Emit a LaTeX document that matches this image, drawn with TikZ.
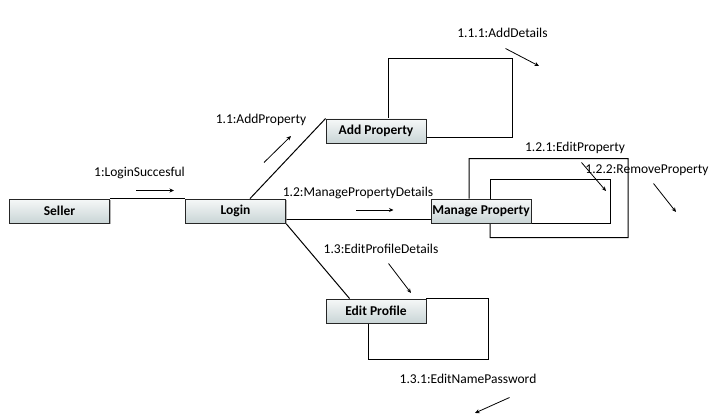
\documentclass[tikz,border=0pt]{standalone}
\usepackage{fontspec}
\setmainfont{Carlito}
\usetikzlibrary{arrows.meta,shadows}
\definecolor{boxtop}{HTML}{F6F8F8}
\definecolor{boxbot}{HTML}{C9D5D6}
\tikzset{
  obj/.style={draw=black!85, line width=0.9pt, top color=boxtop, bottom color=boxbot,
    minimum width=100pt, minimum height=24pt, inner sep=0pt, font=\bfseries\fontsize{13.5}{15}\selectfont,
    drop shadow={shadow xshift=1.2pt, shadow yshift=-1.2pt, fill=black!35, opacity=0.6}},
  lbl/.style={inner sep=0pt, font=\fontsize{13.5}{15}\selectfont},
  link/.style={line width=1pt, black},
  msg/.style={line width=0.8pt, -{Stealth[length=4.5pt,width=4pt]}}
}
\begin{document}
\begin{tikzpicture}[x=1pt,y=-1pt]
\useasboundingbox (0,0) rectangle (728,417);
% objects
\node[obj] (seller) at (59.5,211) {Seller};
\node[obj] (login) at (235.5,211) {Login};
\node[obj] (addp) at (376,131) {Add Property};
\node[obj] (manp) at (481,211) {Manage Property};
\node[obj] (editp) at (376,311) {Edit Profile};
% links
\draw[link] (seller.north east) -- (login.north west);
\draw[link] ([xshift=65pt]login.north west) -- (addp.north west);
\draw[link] ([yshift=-8pt]login.east) -- ([yshift=-8pt]manp.west);
\draw[link] (login.south east) -- ([xshift=24pt]editp.north west);
% self loops
\coordinate (a1) at (512,58.5);
\draw[link] ([yshift=-7pt]addp.east) -| (a1) -| ([xshift=63pt]addp.north west);
\coordinate (m1) at (628,158.5);
\coordinate (m2) at (490,237.5);
\draw[link] ([xshift=38.5pt]manp.north west) |- (m1) |- (m2) -- ([xshift=59.5pt]manp.south west);
\coordinate (m3) at (610,179.5);
\draw[link] ([xshift=59.5pt]manp.north west) |- (m3) |- ([yshift=0.3pt]manp.south east);
\coordinate (e1) at (488.5,359.5);
\draw[link] (editp.north east) -| (e1) -| ([xshift=43pt]editp.south west);
% redraw boxes on top
\node[obj] at (seller) {Seller};
\node[obj] at (login) {Login};
\node[obj] at (addp) {Add Property};
\node[obj] at (manp) {Manage Property};
\node[obj] at (editp) {Edit Profile};
% messages
\node[lbl] (l1) at (139.5,173) {1:LoginSuccesful};
\draw[msg] (136,190.5) -- (174,190.5);
\node[lbl] (l11) at (261,120) {1.1:AddProperty};
\draw[msg] (264,162.5) -- (291,136);
\node[lbl] (l12) at (358,192.5) {1.2:ManagePropertyDetails};
\draw[msg] (356,210) -- (393.5,210);
\node[lbl] (l13) at (381,249) {1.3:EditProfileDetails};
\draw[msg] (388.5,263.5) -- (411,293);
\node[lbl] (l111) at (502.5,32.5) {1.1.1:AddDetails};
\draw[msg] (505.5,48.5) -- (539,66);
\node[lbl] (l121) at (575,148) {1.2.1:EditProperty};
\draw[msg] (581.5,162.5) -- (606,191);
\node[lbl] (l122) at (647,170) {1.2.2:RemoveProperty};
\draw[msg] (653.5,183.5) -- (676,212);
\node[lbl] (l131) at (468,378.5) {1.3.1:EditNamePassword};
\draw[msg] (509.5,397.5) -- (475,413);
\end{tikzpicture}
\end{document}
